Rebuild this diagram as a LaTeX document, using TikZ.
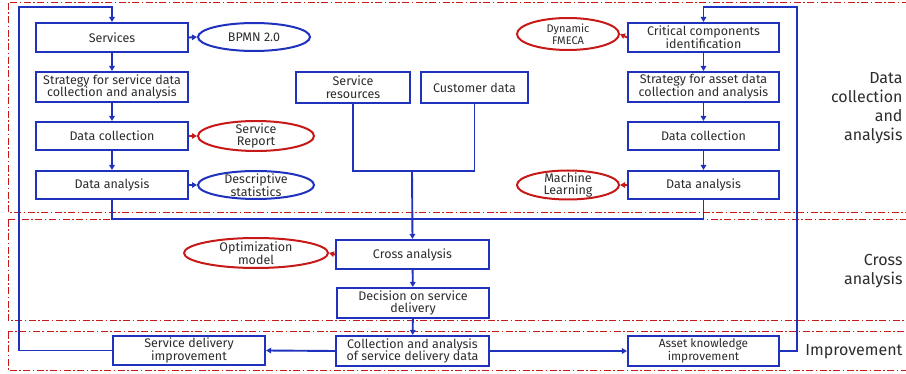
\documentclass[tikz,border=0pt]{standalone}
\usepackage{fontspec}
\setmainfont{Fira Sans}
\usetikzlibrary{arrows.meta,shapes.geometric}
\definecolor{bl}{RGB}{30,50,190}
\definecolor{rd}{RGB}{200,25,25}
\definecolor{tx}{RGB}{45,45,45}
\begin{document}
\begin{tikzpicture}[x=1pt,y=-1pt,
  box/.style={draw=bl,line width=2.1pt,inner sep=1pt,align=center,text=tx,
     font=\fontsize{12.5}{12.8}\selectfont},
  ell/.style={ellipse,line width=2pt,inner sep=0pt},
  etext/.style={align=center,text=tx,font=\fontsize{12.5}{12.8}\selectfont},
  conn/.style={draw=bl,line width=1.9pt},
  arr/.style={conn,-{Triangle[length=5pt,width=5.5pt]}},
  rarr/.style={draw=rd,line width=1.9pt,-{Triangle[length=5pt,width=5.5pt]}},
  region/.style={draw=rd,line width=1pt,dash pattern=on 7pt off 2.5pt on 1.5pt off 2.5pt},
  lab/.style={align=right,text=tx,font=\fontsize{16}{19}\selectfont}]
\clip (0,0) rectangle (906,374);
\fill[white] (0,0) rectangle (906,374);
% regions
\draw[region] (8,3) rectangle (930,213);
\draw[region] (8,220) rectangle (930,321);
\draw[region] (8,332) rectangle (930,371);
% left column
\node[box,minimum width=152pt,minimum height=29pt] (svc) at (112,37.5) {Services};
\node[box,minimum width=152pt,minimum height=30pt] (strs) at (112,87) {Strategy for service data\\collection and analysis};
\node[box,minimum width=152pt,minimum height=28pt] (dcl) at (112,136) {Data collection};
\node[box,minimum width=152pt,minimum height=28pt] (dal) at (112,185) {Data analysis};
% right column
\node[box,minimum width=151pt,minimum height=29pt] (crit) at (703.5,37.5) {Critical components\\identification};
\node[box,minimum width=151pt,minimum height=30pt] (stra) at (703.5,87) {Strategy for asset data\\collection and analysis};
\node[box,minimum width=151pt,minimum height=28pt] (dcr) at (703.5,136) {Data collection};
\node[box,minimum width=151pt,minimum height=28pt] (dar) at (703.5,185) {Data analysis};
% centre
\node[box,minimum width=114pt,minimum height=31pt] (sres) at (353,87.5) {Service\\resources};
\node[box,minimum width=107pt,minimum height=31pt] (cust) at (474.5,87.5) {Customer data};
\node[box,minimum width=153pt,minimum height=29pt] (cross) at (412.5,254.5) {Cross analysis};
\node[box,minimum width=152pt,minimum height=30pt] (dec) at (413,303) {Decision on service\\delivery};
\node[box,minimum width=153pt,minimum height=30pt] (coll) at (412.5,351) {Collection and analysis\\of service delivery data};
\node[box,minimum width=152pt,minimum height=29pt] (sdi) at (189,350.5) {Service delivery\\improvement};
\node[box,minimum width=151pt,minimum height=30pt,font=\fontsize{11.8}{12.5}\selectfont] (aki) at (703.5,351) {Asset knowledge\\improvement};
% ellipses
\node[ell,draw=bl,minimum width=112pt,minimum height=28pt] (bpmn) at (254,37) {};
\node[etext] (bpmnT) at (bpmn) {BPMN 2.0};
\node[ell,draw=rd,minimum width=116pt,minimum height=30pt] (srep) at (256,136) {};
\node[etext] (srepT) at (srep) {Service\\Report};
\node[ell,draw=bl,minimum width=116pt,minimum height=28pt] (desc) at (256,185) {};
\node[etext] (descT) at (desc) {Descriptive\\statistics};
\node[ell,draw=rd,minimum width=144pt,minimum height=30pt] (opt) at (256,253) {};
\node[etext] (optT) at (opt) {Optimization\\model};
\node[ell,draw=rd,minimum width=102pt,minimum height=32pt] (fmeca) at (568,34) {};
\node[etext,font=\fontsize{11}{12}\selectfont] (fmecaT) at (fmeca) {Dynamic\\FMECA};
\node[ell,draw=rd,minimum width=102pt,minimum height=29pt] (ml) at (568,185) {};
\node[etext] (mlT) at (ml) {Machine\\Learning};
% labels
\node[lab,anchor=east] (l1) at (906,108.5) {Data\\collection\\and\\analysis};
\node[lab,anchor=east] (l2) at (906,271.5) {Cross\\analysis};
\node[lab,anchor=east] (l3) at (906,352) {Improvement};
% coordinates
\coordinate (lt) at (19,7);
\coordinate (rt) at (797,7);
\coordinate (jn) at (412,219);
\coordinate (jm) at (412,171);
% column arrows
\draw[arr] (svc) -- (strs);
\draw[arr] (strs) -- (dcl);
\draw[arr] (dcl) -- (dal);
\draw[arr] (crit) -- (stra);
\draw[arr] (stra) -- (dcr);
\draw[arr] (dcr) -- (dar);
% to ellipses
\draw[arr] (svc.east) -- (bpmn.west);
\draw[rarr] (dcl.east) -- (srep.west);
\draw[arr] (dal.east) -- (desc.west);
\draw[rarr] (crit.west) -- (fmeca.east);
\draw[rarr] (dar.west) -- (ml.east);
\draw[rarr] (cross.west) -- (opt.east);
% merges
\draw[conn] (dal.south) |- (jn);
\draw[conn] (dar.south) |- (jn);
\draw[conn] (sres.south) |- (jm);
\draw[conn] (cust.south) |- (jm);
\draw[arr] (jm) -- (cross.north);
\draw[arr] (cross) -- (dec);
\draw[arr] (dec) -- (coll);
\draw[arr] (coll.west) -- (sdi.east);
\draw[arr] (coll.east) -- (aki.west);
% loops
\draw[arr] (sdi.west) -| (lt) -| (svc.north);
\draw[arr] (aki.east) -| (rt) -| (crit.north);
\end{tikzpicture}
\end{document}
